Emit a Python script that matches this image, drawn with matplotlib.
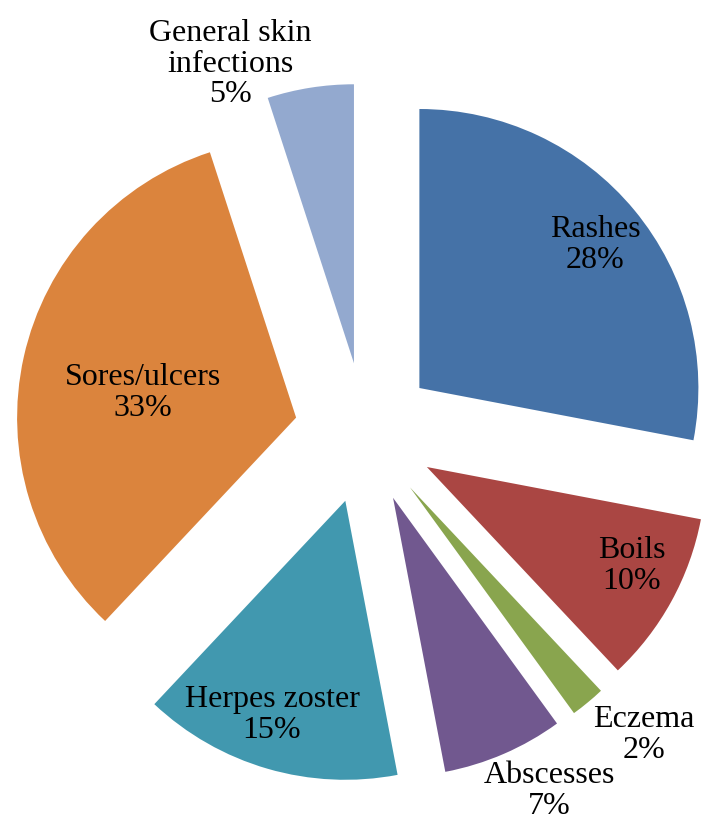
import matplotlib
matplotlib.use("Agg")
import matplotlib.pyplot as plt

categories = ["Rashes", "Boils", "Eczema", "Abscesses", "Herpes zoster",
              "Sores/ulcers", "General skin\ninfections"]
shares = [28, 10, 2, 7, 15, 33, 5]
colors = ["#4572A7", "#AA4643", "#89A54E", "#71588F", "#4198AF",
          "#DB843D", "#93A9CF"]

# label centres in pixels (from top-left of the 724x838 image)
label_px = [(595, 245), (632, 566), (644, 735), (549, 791), (272, 715),
            (143, 393), (230, 64)]

W, H = 724, 838
cx, cy, r = 365, 433, 279  # pie centre and radius in pixels

fig = plt.figure(figsize=(W / 100, H / 100), dpi=100)
ax = fig.add_axes([0, 0, 1, 1])
ax.pie(shares, colors=colors, startangle=90, counterclock=False,
       explode=[0.253] * len(shares), radius=1,
       wedgeprops=dict(linewidth=0))
ax.set_xlim(-cx / r, (W - cx) / r)
ax.set_ylim((cy - H) / r, cy / r)
ax.set_aspect("auto")
ax.axis("off")

for name, val, (px, py) in zip(categories, shares, label_px):
    fig.text(px / W, 1 - py / H, f"{name}\n{val}%", ha="center", va="center",
             fontsize=23, family="Liberation Serif", linespacing=1.05,
             color="black")

fig.savefig("out.png", dpi=100, facecolor="white")
